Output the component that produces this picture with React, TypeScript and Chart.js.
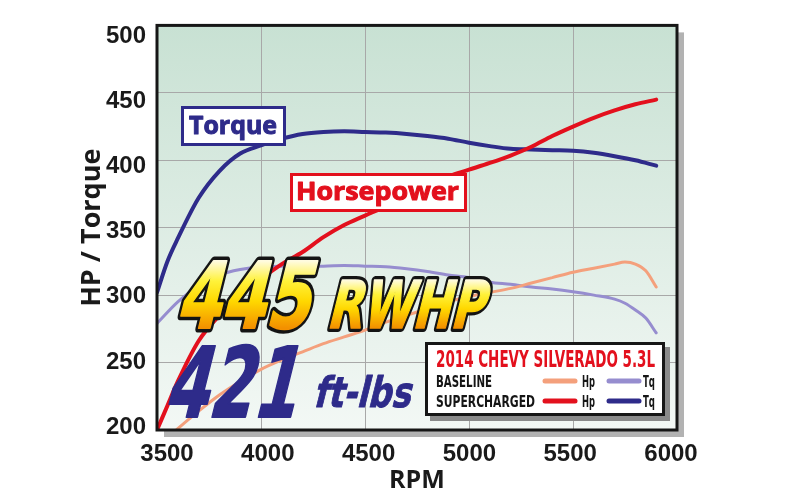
import React, { useEffect, useRef } from "react";
import { Chart, registerables } from "chart.js";

Chart.register(...registerables);

// ---------- DATA ----------
const SC_RPM = [3500, 3550, 3600, 3700, 3800, 3900, 4000, 4100, 4200, 4300, 4400, 4500, 4600, 4700, 4800, 4900, 5000, 5100, 5200, 5300, 5400, 5500, 5600, 5700, 5800, 5900];
const SC_TORQUE = [302, 325, 342, 372, 392, 405, 411, 416, 419.5, 421, 421.5, 421, 420.5, 419.5, 418, 416, 413, 410.5, 408.5, 408, 407.5, 407, 405.5, 403, 400, 396];
const SC_HP = [200, 218, 236, 266, 285, 300, 312, 323, 332, 343, 352, 359, 366, 374, 381, 388, 393, 398, 403.5, 410, 418, 425, 431.5, 437, 441.5, 445];

const BASE_RPM = [3500, 3600, 3700, 3800, 3900, 4000, 4100, 4200, 4300, 4400, 4500, 4600, 4700, 4800, 4900, 5000, 5100, 5200, 5300, 5400, 5500, 5600, 5700, 5750, 5800, 5850, 5900];
const BASE_TORQUE = [279, 295, 307, 315, 319, 321, 321.5, 321.5, 321.5, 322, 321.5, 321, 319.5, 317.5, 315, 313, 309.5, 308, 306, 304.5, 302.5, 300, 297, 294, 289, 283, 272];
const BASE_HP = [187, 201, 214, 226, 236, 245, 252, 258, 264, 269, 274, 280, 285, 290, 295, 299, 302, 305, 309, 313, 317, 320, 323, 324.5, 323, 318, 306];

const X_TICKS = [3500, 4000, 4500, 5000, 5500, 6000];
const Y_TICKS = [200, 250, 300, 350, 400, 450, 500];

const X_TITLE = "RPM";
const Y_TITLE = "HP / Torque";
const LEGEND_TITLE = "2014 CHEVY SILVERADO 5.3L";
const ROW_LABELS = ["BASELINE", "SUPERCHARGED"];
const COL_LABELS = ["Hp", "Tq"];
const BIG_HP = ["445", "RWHP"];
const BIG_TQ = ["421", "ft-lbs"];
const TORQUE_LABEL = "Torque";
const HP_LABEL = "Horsepower";

// ---------- STYLE ----------
const NAVY = "#2e2b8a";
const RED = "#e3101d";
const SALMON = "#f4a07c";
const LAVENDER = "#968dcf";
const TICK_FAMILY = "'Liberation Sans Narrow', 'Liberation Sans', Arial, sans-serif";
const NARROW = "'DejaVu Sans Condensed', 'DejaVu Sans', sans-serif";
const HEAVY = "'DejaVu Sans', sans-serif";
const WIDE = "'Open Sans', 'DejaVu Sans', sans-serif";

const pts = (xs: number[], ys: number[]) => xs.map((x, i) => ({ x, y: ys[i] }));

function fitText(ctx: CanvasRenderingContext2D, text: string, x: number, baseline: number, width: number, capH: number, color: string, family: string, align: "left" | "center" = "left", embolden = 0) {
  const size = capH / 0.72;
  ctx.save();
  ctx.font = `bold ${size}px ${family}`;
  const w = ctx.measureText(text).width;
  const left = align === "center" ? x - width / 2 : x;
  ctx.translate(left, baseline);
  ctx.scale(width / w, 1);
  ctx.textBaseline = "alphabetic";
  ctx.textAlign = "left";
  ctx.fillStyle = color;
  ctx.fillText(text, 0, 0);
  if (embolden > 0) {
    ctx.lineJoin = "round";
    ctx.lineWidth = embolden;
    ctx.strokeStyle = color;
    ctx.strokeText(text, 0, 0);
  }
  ctx.restore();
}

function bigText(ctx: CanvasRenderingContext2D, text: string, x: number, baseline: number, width: number, capH: number, skew: number, fill: string | null, strokeW: number, embolden: number, ascRatio = 0.73) {
  const size = capH / ascRatio;
  ctx.save();
  ctx.font = `bold ${size}px ${HEAVY}`;
  const w = ctx.measureText(text).width;
  ctx.translate(x, baseline);
  ctx.transform(width / w, 0, -skew, 1, 0, 0);
  ctx.textBaseline = "alphabetic";
  ctx.textAlign = "left";
  ctx.lineJoin = "round";
  if (strokeW > 0) {
    ctx.lineWidth = strokeW;
    ctx.strokeStyle = "#141414";
    ctx.strokeText(text, 0, 0);
  }
  let paint: any = fill;
  if (!fill) {
    const g = ctx.createLinearGradient(0, -capH, 0, 0);
    g.addColorStop(0, "#fffbe0");
    g.addColorStop(0.3, "#fff23a");
    g.addColorStop(0.6, "#ffd800");
    g.addColorStop(1, "#f39000");
    paint = g;
  }
  ctx.fillStyle = paint;
  ctx.fillText(text, 0, 0);
  if (embolden > 0) {
    ctx.lineWidth = embolden;
    ctx.strokeStyle = paint;
    ctx.strokeText(text, 0, 0);
  }
  ctx.restore();
}

const decorPlugin = {
  id: "decor",
  beforeDraw(chart: any) {
    const { ctx, chartArea: a } = chart;
    ctx.save();
    ctx.fillStyle = "#b2b2b2";
    ctx.fillRect(a.left + 7, a.top + 7, a.right - a.left, a.bottom - a.top);
    const g = ctx.createLinearGradient(0, a.top, 0, a.bottom);
    g.addColorStop(0, "#c8e1d3");
    g.addColorStop(1, "#f3f8f5");
    ctx.fillStyle = g;
    ctx.fillRect(a.left, a.top, a.right - a.left, a.bottom - a.top);
    ctx.restore();
  },
  afterDatasetsDraw(chart: any) {
    const { ctx, chartArea: a } = chart;
    const ds = chart.data.datasets;
    ctx.save();
    // frame
    ctx.strokeStyle = "#161616";
    ctx.lineWidth = 3;
    ctx.strokeRect(a.left, a.top, a.right - a.left, a.bottom - a.top);

    // Torque label box
    ctx.fillStyle = "#ffffff";
    ctx.fillRect(181, 106, 105, 40);
    ctx.strokeStyle = NAVY;
    ctx.lineWidth = 3;
    ctx.strokeRect(182.5, 107.5, 102, 37);
    fitText(ctx, TORQUE_LABEL, 233, 133.5, 88, 18.3, NAVY, WIDE, "center", 1);

    // Horsepower label box
    ctx.fillStyle = "#ffffff";
    ctx.fillRect(290, 173, 177, 39);
    ctx.strokeStyle = RED;
    ctx.strokeRect(291.5, 174.5, 174, 36);
    fitText(ctx, HP_LABEL, 377.5, 200, 163, 18.3, RED, WIDE, "center", 1);

    // Big numbers
    bigText(ctx, BIG_HP[0], 175, 328, 134, 67, 0.25, null, 9, 2);
    bigText(ctx, BIG_HP[1], 326, 328, 157, 48, 0.25, null, 8, 1.5);
    bigText(ctx, BIG_TQ[0], 163, 417, 132, 71, 0.25, NAVY, 0, 2);
    bigText(ctx, BIG_TQ[1], 313, 407, 97, 32, 0.25, NAVY, 0, 1, 0.76);

    // Legend box
    ctx.fillStyle = "#8a8a8a";
    ctx.fillRect(430, 347, 240, 74);
    ctx.fillStyle = "#ffffff";
    ctx.fillRect(425, 342, 240, 74);
    ctx.strokeStyle = "#161616";
    ctx.lineWidth = 3;
    ctx.strokeRect(426.5, 343.5, 237, 71);
    fitText(ctx, LEGEND_TITLE, 436, 366.5, 219, 16.5, RED, NARROW);
    fitText(ctx, ROW_LABELS[0], 436, 386.5, 56, 11.7, "#151515", NARROW);
    fitText(ctx, ROW_LABELS[1], 436, 406.5, 99, 11.7, "#151515", NARROW);
    const rows = [
      [ds[2].borderColor, ds[3].borderColor],
      [ds[0].borderColor, ds[1].borderColor],
    ];
    const rowY = [381, 401];
    const rowBase = [386.5, 406.5];
    ctx.lineCap = "round";
    ctx.lineWidth = 5;
    rows.forEach((cols, r) => {
      [545, 609].forEach((x0, c) => {
        ctx.strokeStyle = cols[c];
        ctx.beginPath();
        ctx.moveTo(x0, rowY[r]);
        ctx.lineTo(x0 + 30, rowY[r]);
        ctx.stroke();
      });
      fitText(ctx, COL_LABELS[0], 582, rowBase[r], 13, 11.7, "#151515", NARROW);
      fitText(ctx, COL_LABELS[1], 643, rowBase[r], 12, 11.7, "#151515", NARROW);
    });
    ctx.restore();
  },
};

const tickFont = { family: TICK_FAMILY, size: 24, weight: "bold" as const };

export default function App() {
  const ref = useRef<HTMLCanvasElement>(null);
  useEffect(() => {
    document.body.style.margin = "0";
    const chart = new Chart(ref.current as HTMLCanvasElement, {
      type: "line",
      data: {
        datasets: [
          { label: "Supercharged Hp", data: pts(SC_RPM, SC_HP), borderColor: RED, borderWidth: 4, xAxisID: "x", yAxisID: "y" },
          { label: "Supercharged Tq", data: pts(SC_RPM, SC_TORQUE), borderColor: NAVY, borderWidth: 4, xAxisID: "x", yAxisID: "y" },
          { label: "Baseline Hp", data: pts(BASE_RPM, BASE_HP), borderColor: SALMON, borderWidth: 3, xAxisID: "x", yAxisID: "y" },
          { label: "Baseline Tq", data: pts(BASE_RPM, BASE_TORQUE), borderColor: LAVENDER, borderWidth: 3, xAxisID: "x", yAxisID: "y" },
        ],
      },
      options: {
        responsive: false,
        animation: false,
        events: [],
        elements: {
          point: { radius: 0 },
          line: { tension: 0.4, cubicInterpolationMode: "monotone", fill: false, borderCapStyle: "round" },
        },
        layout: { autoPadding: false, padding: { top: 21, right: 123, bottom: 0, left: 0 } },
        plugins: { legend: { display: false }, tooltip: { enabled: false }, title: { display: false } },
        scales: {
          x: {
            type: "linear", position: "bottom", min: 3500, max: 6000,
            grid: { color: "#a8a8a8", lineWidth: 1, drawTicks: false },
            border: { display: false },
            ticks: { display: false, stepSize: 500 },
            afterFit: (s: any) => { s.height = 0; },
          },
          y: {
            type: "linear", position: "left", min: 200, max: 500,
            grid: { color: "#a8a8a8", lineWidth: 1, drawTicks: false },
            border: { display: false },
            ticks: { display: false, stepSize: 50 },
            afterFit: (s: any) => { s.width = 0; },
          },
          xl: {
            type: "linear", position: "bottom", min: 3450.4, max: 6029.8,
            grid: { display: false, drawTicks: false },
            border: { display: false },
            afterBuildTicks: (s: any) => { s.ticks = X_TICKS.map((v) => ({ value: v })); },
            ticks: { font: tickFont, color: "#1a1a1a", padding: 10, autoSkip: false, maxRotation: 0, callback: (v: any) => String(v) },
            title: { display: true, text: X_TITLE, color: "#1a1a1a", font: { family: WIDE, size: 25, weight: "bold" }, padding: { top: 0, bottom: 4 } },
            afterFit: (s: any) => { s.height = 70; },
          },
          yl: {
            type: "linear", position: "left", min: 197.7, max: 508.35,
            grid: { display: false, drawTicks: false },
            border: { display: false },
            afterBuildTicks: (s: any) => { s.ticks = Y_TICKS.map((v) => ({ value: v })); },
            ticks: { font: tickFont, color: "#1a1a1a", padding: 11, autoSkip: false, callback: (v: any) => String(v) },
            title: { display: true, text: Y_TITLE, color: "#1a1a1a", font: { family: WIDE, size: 27, weight: "bold" }, padding: { top: 76, bottom: 0 } },
            afterFit: (s: any) => { s.width = 157; },
          },
        },
      },
      plugins: [decorPlugin],
    } as any);
    return () => chart.destroy();
  }, []);
  return (
    <div style={{ width: 800, height: 500, position: "relative" }}>
      <canvas ref={ref} width={800} height={500} style={{ display: "block", width: 800, height: 500 }} />
    </div>
  );
}
